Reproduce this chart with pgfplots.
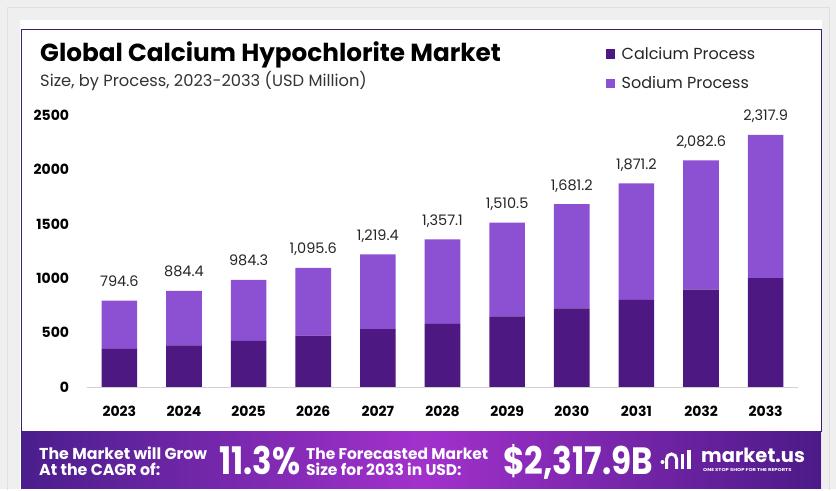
\documentclass[border=0pt]{standalone}
\usepackage{fontspec}
\setmainfont{Poppins}
\usepackage{pgfplots}
\pgfplotsset{compat=1.18}

\definecolor{calc}{HTML}{4D1882}
\definecolor{sod}{HTML}{8C50D2}
\definecolor{cardline}{HTML}{3E1D6E}
\definecolor{bgout}{HTML}{EFEFEF}
\definecolor{banL}{HTML}{4A1E8C}
\definecolor{banM}{HTML}{A231CC}
\definecolor{banR}{HTML}{4C1A88}
\newcommand\fs[1]{\fontsize{#1}{#1}\selectfont}

\begin{document}
\begin{tikzpicture}[x=1pt,y=1pt,
  total/.style={anchor=base, inner sep=0pt, yshift=14pt, font=\fs{14.5}, text=black!85}]
% frame and card
\fill[bgout] (0,0) rectangle (836,489);
\draw[black!12] (7.5,-1) -- (7.5,481.5) -- (829.5,481.5) -- (829.5,-1);
\fill[white] (20,0) rectangle (822,469);
\shade[left color=banL, right color=banR, middle color=banM] (21,0) rectangle (821,57);
\draw[cardline, line width=1pt] (21,57) -- (21,459) -- (821,459) -- (821,57);

% titles
\node[anchor=base west, inner sep=0] at (40,427) {\fs{24.7}\bfseries Global Calcium Hypochlorite Market};
\node[anchor=base west, inner sep=0, text=black!80] at (40,402) {\fs{16.3}Size, by Process, 2023-2033 (USD Million)};

\begin{axis}[
  at={(87pt,102pt)}, anchor=south west,
  scale only axis, width=711pt, height=272pt,
  xmin=-0.5, xmax=10.5, ymin=0, ymax=2500,
  ybar stacked, bar width=35.6pt,
  clip=false,
  axis x line*=bottom, axis y line*=left,
  x axis line style={draw=black!18, -},
  y axis line style={draw=none},
  major tick length=0pt,
  xtick={0,1,2,3,4,5,6,7,8,9,10},
  xticklabels={2023,2024,2025,2026,2027,2028,2029,2030,2031,2032,2033},
  ytick={0,500,1000,1500,2000,2500},
  /pgf/number format/.cd, 1000 sep={}, assume math mode=true, /pgfplots/.cd,
  tick label style={font=\fs{14}\bfseries},
  yticklabel style={anchor=east, inner sep=0pt, xshift=-17.7pt},
  xticklabel style={anchor=base, inner sep=0pt, yshift=-29.7pt},
  legend style={at={(0.725,1.257)}, anchor=north west, draw=none, fill=none,
    font=\fs{16}, text=black!85, row sep=15.5pt,
    nodes={inner sep=0pt, anchor=west}},
  legend cell align=left,
  legend image code/.code={\fill[#1] (0pt,-4.7pt) rectangle (9.3pt,4.7pt);},
  /tikz/every odd column/.append style={column sep=6.7pt},
]
\addplot[fill=calc, draw=none] coordinates {
  (0,351) (1,382) (2,425) (3,472) (4,531) (5,581)
  (6,649) (7,723) (8,801) (9,894) (10,1000)
};
\addlegendentry{Calcium Process}
\addplot[fill=sod, draw=none] coordinates {
  (0,443.6) (1,502.4) (2,559.3) (3,623.6) (4,688.4) (5,776.1)
  (6,861.5) (7,958.2) (8,1070.2) (9,1188.6) (10,1317.9)
};
\addlegendentry{Sodium Process}
% totals above the bars
\node[total] at (axis cs:0,794.6) {794.6};
\node[total] at (axis cs:1,884.4) {884.4};
\node[total] at (axis cs:2,984.3) {984.3};
\node[total] at (axis cs:3,1095.6) {1,095.6};
\node[total] at (axis cs:4,1219.4) {1,219.4};
\node[total] at (axis cs:5,1357.1) {1,357.1};
\node[total] at (axis cs:6,1510.5) {1,510.5};
\node[total] at (axis cs:7,1681.2) {1,681.2};
\node[total] at (axis cs:8,1871.2) {1,871.2};
\node[total] at (axis cs:9,2082.6) {2,082.6};
\node[total] at (axis cs:10,2317.9) {2,317.9};
\end{axis}

% banner text
\begin{scope}[every node/.style={anchor=base west, inner sep=0, text=white}]
\node[align=left, font={\fontsize{15.8}{16.2}\selectfont\bfseries}] at (39,13.6)
  {The Market will Grow\\At the CAGR of:};
\node at (219,14) {\scalebox{0.85}[1]{\fs{38}\bfseries 11.3\%}};
\node[align=left, font={\fontsize{15.5}{16.2}\selectfont\bfseries}] at (306,13.6)
  {The Forecasted Market\\Size for 2033 in USD:};
\node at (503,14) {\scalebox{0.86}[1]{\fs{38}\bfseries \$2,317.9B}};
\node at (701,26) {\fs{19.5}\bfseries market.us};
\node at (703,17.3) {\scalebox{1.25}[1]{\fs{4.2}\bfseries ONE STOP SHOP FOR THE REPORTS}};
\end{scope}
% logo mark
\fill[white] (662.5,27) circle (2pt);
\draw[white, line width=3pt] (666.5,20) -- (666.5,30) arc[start angle=180, end angle=0, radius=5] -- (676.5,20);
\draw[white, line width=3pt] (682,20) -- (682,35);
\draw[white, line width=3.5pt] (689,20) -- (689,39);
\end{tikzpicture}
\end{document}
